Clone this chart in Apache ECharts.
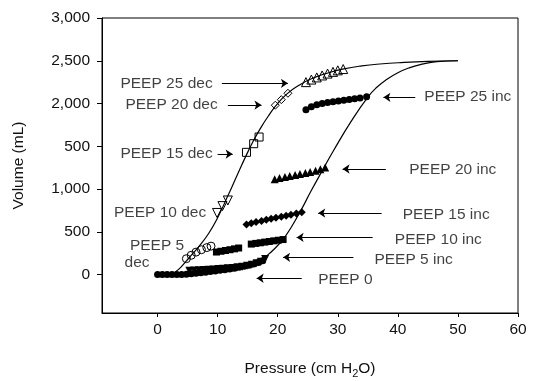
<!DOCTYPE html>
<html>
<head>
<meta charset="utf-8">
<script src="https://cdn.jsdelivr.net/npm/echarts@6/dist/echarts.min.js"></script>
<style>
html,body{margin:0;padding:0;background:#fff;}
#chart{width:537px;height:381px;}
</style>
</head>
<body>
<div id="chart"></div>
<script>
// ---- Axis ticks ----
const pressureTicks = [0, 10, 20, 30, 40, 50, 60];
const pressureTickLabels = ['0', '10', '20', '30', '40', '50', '60'];
const volumeTicks = [0, 500, 1000, 1500, 2000, 2500, 3000];
const volumeTickLabels = ['0', '500', '1,000', '500', '2,000', '2,500', '3,000'];

// ---- Fitted curves ----
const deflationP = [2.3, 3.5, 4.8, 6.0, 7.0, 8.5, 9.9, 11.7, 13.3, 14.6, 16.0, 17.3, 18.6, 19.7, 21.5, 23.7, 26.0, 28.5, 31.0, 34.0, 37.0, 41.0, 45.0, 50.0];
const deflationV = [0, 60, 160, 255, 338, 480, 650, 920, 1170, 1370, 1570, 1730, 1870, 1975, 2110, 2220, 2300, 2360, 2405, 2440, 2462, 2480, 2492, 2500];
const inflationP = [16.8, 17.8, 19.3, 21.3, 23.7, 25.5, 27.5, 29.3, 32.3, 35.1, 36.5, 38.0, 40.0, 42.0, 44.0, 46.5, 50.0];
const inflationV = [150, 200, 290, 450, 730, 970, 1225, 1450, 1800, 2083, 2190, 2275, 2360, 2420, 2460, 2490, 2500];

// ---- Inflation limbs (filled markers) ----
const peep0P = [0, 0.8, 1.6, 2.4, 3.2, 4.0, 4.8, 5.6, 6.4, 7.2, 8.0, 8.8, 9.6, 10.4, 11.2, 12.0, 12.8, 13.6, 14.4, 15.2, 16.0, 16.8, 17.5];
const peep0V = [0, 0, 0, 0, 0, 0, 3, 8, 14, 21, 28, 35, 42, 49, 57, 65, 74, 84, 96, 109, 124, 142, 162];
const peep5IncP = [5.3, 6.1, 6.9, 7.7, 8.5, 9.3, 10.1, 10.9, 11.7, 12.5, 13.3, 14.1, 14.9, 15.7, 16.5, 17.2, 17.9];
const peep5IncV = [45, 48, 51, 54, 57, 60, 64, 68, 72, 77, 84, 92, 102, 115, 132, 150, 182];
const peep10IncP = [9.8, 10.55, 11.3, 12.05, 12.8, 13.5, 15.6, 16.35, 17.1, 17.85, 18.6, 19.35, 20.1, 20.9];
const peep10IncV = [263, 272, 281, 290, 300, 310, 356, 364, 371, 379, 386, 394, 401, 409];
const peep15IncP = [14.8, 15.6, 16.4, 17.3, 18.1, 18.9, 19.7, 20.6, 21.4, 22.2, 23.1, 24.0];
const peep15IncV = [584, 600, 614, 627, 640, 652, 664, 676, 688, 700, 713, 728];
const peep20IncP = [19.5, 20.3, 21.2, 22.0, 22.9, 23.7, 24.6, 25.4, 26.3, 27.1, 27.9];
const peep20IncV = [1115, 1128, 1140, 1152, 1164, 1176, 1188, 1200, 1214, 1230, 1252];
const peep25IncP = [24.7, 25.6, 26.5, 27.4, 28.3, 29.2, 30.1, 31.0, 31.9, 32.8, 33.7, 34.8];
const peep25IncV = [1928, 1962, 1985, 2000, 2011, 2020, 2029, 2038, 2047, 2056, 2065, 2080];

// ---- Deflation limbs (open markers) ----
const peep5DecP = [4.8, 5.6, 6.4, 7.3, 8.2, 8.9];
const peep5DecV = [185, 225, 262, 290, 315, 332];
const peep10DecP = [9.9, 10.8, 11.7];
const peep10DecV = [720, 800, 866];
const peep15DecP = [14.8, 16.0, 16.9];
const peep15DecV = [1429, 1530, 1608];
const peep20DecP = [19.6, 20.6, 21.7];
const peep20DecV = [1980, 2045, 2120];
const peep25DecP = [24.7, 25.6, 26.5, 27.4, 28.3, 29.2, 30.0, 30.9];
const peep25DecV = [2250, 2280, 2305, 2328, 2350, 2370, 2388, 2403];

// ---- Annotations (data coordinates) ----
const labelTexts = ['PEEP 25 inc', 'PEEP 20 inc', 'PEEP 15 inc', 'PEEP 10 inc', 'PEEP 5 inc', 'PEEP 0',
                    'PEEP 25 dec', 'PEEP 20 dec', 'PEEP 15 dec', 'PEEP 10 dec', 'PEEP 5', 'dec'];
const labelP = [44.4, 41.9, 40.8, 39.5, 36.1, 26.75, -6.18, -5.35, -6.18, -7.25, -4.6, -5.5];
const labelV = [2076, 1230, 696, 412, 170, -64, 2236, 1982, 1409, 723, 333, 134];
const arrowFromP = [42.9, 38.0, 37.3, 35.8, 32.6, 24.0, 10.7, 11.7, 10.0];
const arrowToP   = [37.6, 30.8, 26.75, 23.15, 20.9, 16.5, 21.7, 17.3, 12.5];
const arrowV     = [2072, 1234, 719, 434, 201, -44, 2236, 1982, 1409];

const FONT = '"Liberation Sans", Arial, Helvetica, sans-serif';
const FS = 15.5;
const INK = '#111';

const zip = (a, b) => a.map((v, i) => [v, b[i]]);

function filled(name, P, V, symbol, size, rotate) {
  return {
    type: 'scatter', name: name, data: zip(P, V), symbol: symbol, symbolSize: size,
    symbolRotate: rotate || 0, silent: true, z: 3,
    itemStyle: { color: '#000', opacity: 1 }
  };
}
function open(name, P, V, symbol, size, rotate) {
  return {
    type: 'scatter', name: name, data: zip(P, V), symbol: symbol, symbolSize: size,
    symbolRotate: rotate || 0, silent: true, z: 3,
    itemStyle: { color: 'rgba(255,255,255,0)', borderColor: '#000', borderWidth: 1, opacity: 1 }
  };
}
function curve(name, P, V) {
  return {
    type: 'line', name: name, data: zip(P, V), showSymbol: false, smooth: 0.5,
    silent: true, z: 2,
    lineStyle: { color: '#000', width: 1.2 }
  };
}

const chart = echarts.init(document.getElementById('chart'), null, { renderer: 'canvas' });
chart.setOption({
  animation: false,
  backgroundColor: '#fff',
  textStyle: { fontFamily: FONT, color: INK },
  grid: { left: 102, right: 19, top: 18, bottom: 68, show: true, borderColor: '#000', borderWidth: 1,
          containLabel: false, outerBoundsMode: 'none' },
  xAxis: {
    type: 'value', min: -9.25, max: 60,
    name: 'Pressure (cm H{sub|2}O)', nameLocation: 'middle', nameGap: 46,
    nameTextStyle: { fontFamily: FONT, fontSize: FS, color: INK,
      rich: { sub: { fontFamily: FONT, fontSize: 11, color: INK, padding: [9, 0, 0, 0], verticalAlign: 'bottom' } } },
    axisLine: { show: true, onZero: false, lineStyle: { color: '#000', width: 1 } },
    axisTick: { show: true, inside: false, length: 4, customValues: pressureTicks, lineStyle: { color: '#000' } },
    axisLabel: { show: true, margin: 9, fontFamily: FONT, fontSize: FS, color: INK, customValues: pressureTicks,
      formatter: v => pressureTickLabels[pressureTicks.indexOf(v)] },
    splitLine: { show: false }
  },
  yAxis: {
    type: 'value', min: -450, max: 3000,
    name: 'Volume (mL)', nameLocation: 'middle', nameGap: 75,
    nameTextStyle: { fontFamily: FONT, fontSize: FS, color: INK },
    axisLine: { show: true, onZero: false, lineStyle: { color: '#000', width: 1 } },
    axisTick: { show: true, inside: false, length: 5, customValues: volumeTicks, lineStyle: { color: '#000' } },
    axisLabel: { show: true, margin: 12, fontFamily: FONT, fontSize: FS, color: INK, customValues: volumeTicks,
      formatter: v => volumeTickLabels[volumeTicks.indexOf(v)] },
    splitLine: { show: false }
  },
  series: [
    curve('Deflation', deflationP, deflationV),
    curve('Inflation', inflationP, inflationV),
    filled('PEEP 0', peep0P, peep0V, 'circle', 7),
    filled('PEEP 5 inc', peep5IncP, peep5IncV, 'triangle', 8, 180),
    filled('PEEP 10 inc', peep10IncP, peep10IncV, 'rect', 7),
    filled('PEEP 15 inc', peep15IncP, peep15IncV, 'diamond', 8),
    filled('PEEP 20 inc', peep20IncP, peep20IncV, 'triangle', 8),
    filled('PEEP 25 inc', peep25IncP, peep25IncV, 'circle', 7),
    open('PEEP 5 dec', peep5DecP, peep5DecV, 'circle', 8),
    open('PEEP 10 dec', peep10DecP, peep10DecV, 'triangle', 9, 180),
    open('PEEP 15 dec', peep15DecP, peep15DecV, 'rect', 8),
    open('PEEP 20 dec', peep20DecP, peep20DecV, 'diamond', 8),
    open('PEEP 25 dec', peep25DecP, peep25DecV, 'triangle', 9),
    {
      type: 'lines', name: 'arrows', coordinateSystem: 'cartesian2d', silent: true, z: 4,
      symbol: ['none', 'arrow'], symbolSize: [0, 7],
      lineStyle: { color: '#000', width: 1, opacity: 1 },
      data: arrowV.map((v, i) => ({ coords: [[arrowFromP[i], v], [arrowToP[i], v]] }))
    },
    {
      type: 'scatter', name: 'labels', silent: true, z: 5, symbolSize: 0,
      itemStyle: { color: 'rgba(0,0,0,0)' },
      label: { show: true, position: 'right', distance: 0, formatter: '{b}',
               fontFamily: FONT, fontSize: FS, color: INK },
      labelLayout: { hideOverlap: false },
      data: labelTexts.map((t, i) => ({ name: t, value: [labelP[i], labelV[i]] }))
    }
  ]
});
</script>
</body>
</html>
